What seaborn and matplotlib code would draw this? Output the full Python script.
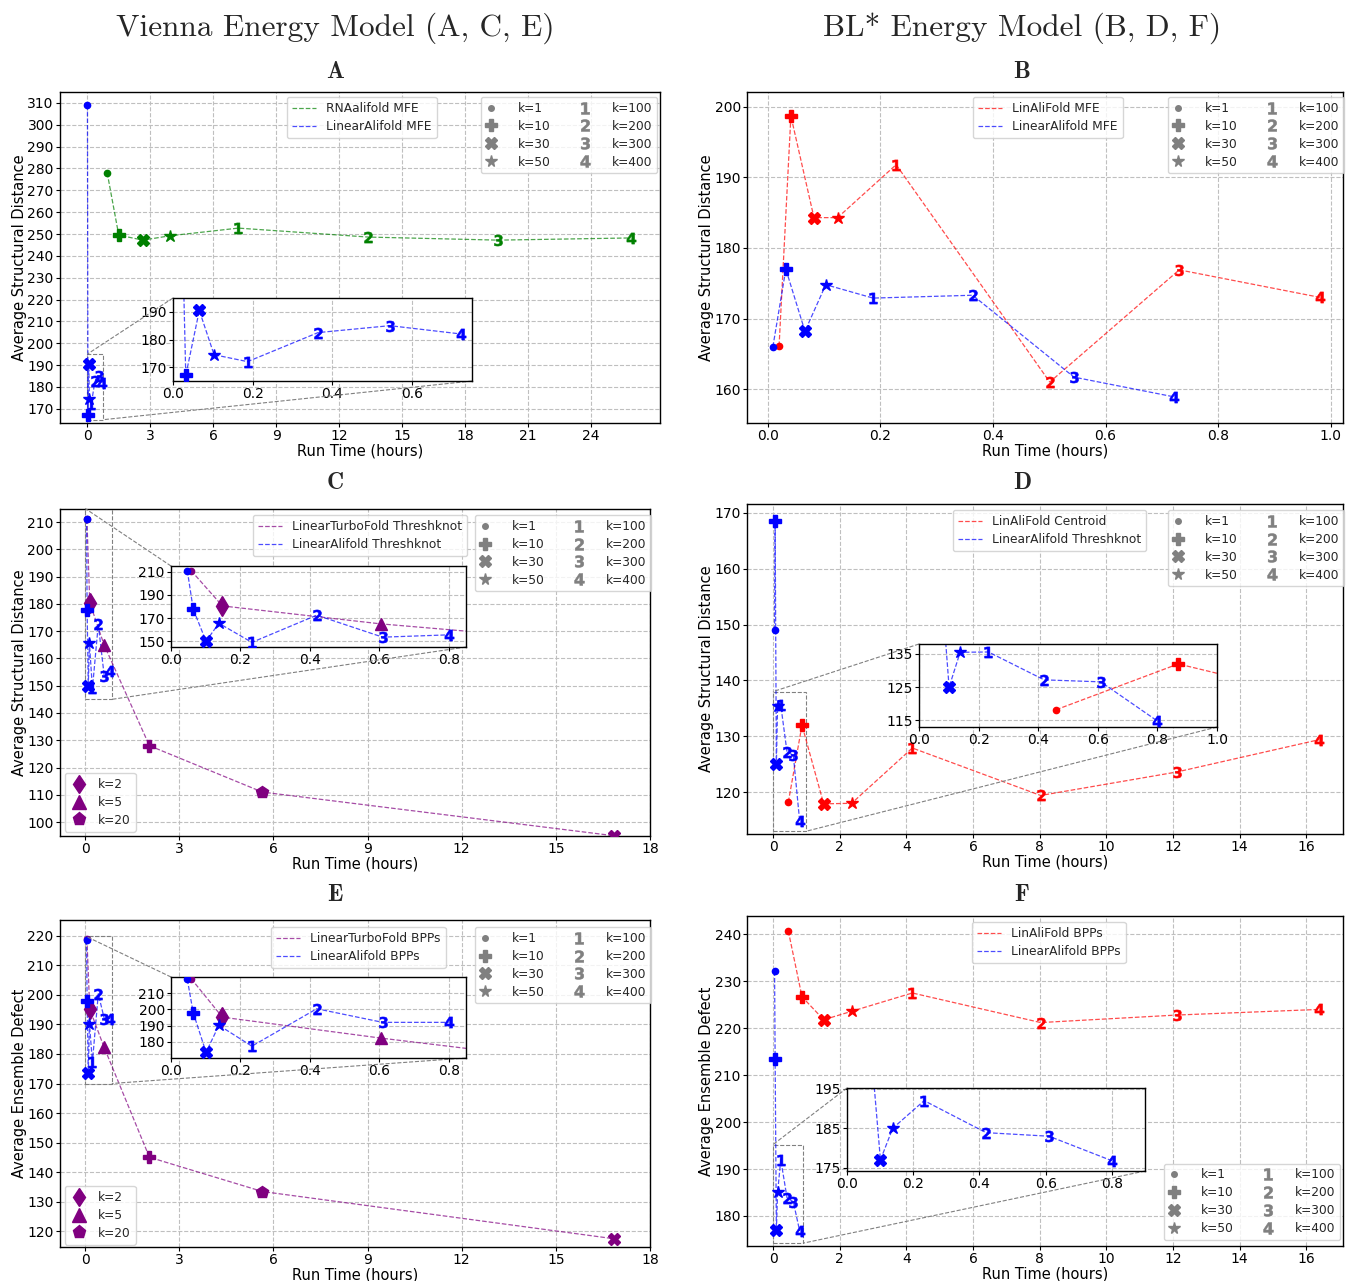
import matplotlib
matplotlib.use("Agg")
import matplotlib.pyplot as plt
import seaborn as sns
from matplotlib.lines import Line2D
from matplotlib.legend import Legend
from mpl_toolkits.axes_grid1.inset_locator import mark_inset

W, H = 1346, 1281

# ---------------- data ----------------
K_MAIN = [1, 10, 30, 50, 100, 200, 300, 400]
K_TURBO = [1, 2, 5, 10, 20, 30]

# Panel A (Vienna, MFE)
A_rnaalifold_x = [0.95, 1.5, 2.65, 3.95, 7.2, 13.4, 19.6, 25.9]
A_rnaalifold_y = [278.0, 249.5, 247.2, 249.2, 252.7, 248.6, 247.2, 248.2]
A_linearalifold_x = [0.009, 0.032, 0.066, 0.103, 0.187, 0.364, 0.544, 0.722]
A_linearalifold_y = [309.0, 167.0, 190.5, 174.5, 172.0, 182.5, 185.0, 182.0]

# Panel B (BL*, MFE)
B_linalifold_x = [0.020, 0.041, 0.082, 0.124, 0.228, 0.501, 0.731, 0.981]
B_linalifold_y = [166.1, 198.7, 184.3, 184.3, 191.8, 161.0, 176.9, 173.0]
B_linearalifold_x = [0.009, 0.032, 0.066, 0.103, 0.187, 0.364, 0.544, 0.722]
B_linearalifold_y = [166.0, 177.0, 168.2, 174.8, 172.9, 173.3, 161.7, 158.9]

# Panel C (Vienna, Threshknot)
C_turbo_x = [0.058, 0.148, 0.604, 2.05, 5.65, 16.85]
C_turbo_y = [211.0, 180.5, 165.0, 128.0, 111.0, 95.0]
C_linearalifold_x = [0.047, 0.064, 0.101, 0.138, 0.233, 0.42, 0.61, 0.80]
C_linearalifold_y = [211.0, 177.7, 150.0, 165.5, 149.0, 172.5, 153.5, 155.5]

# Panel D (BL*, Centroid / Threshknot)
D_linalifold_x = [0.46, 0.87, 1.52, 2.36, 4.18, 8.03, 12.11, 16.39]
D_linalifold_y = [118.2, 132.0, 117.9, 118.0, 127.9, 119.4, 123.6, 129.4]
D_linearalifold_x = [0.047, 0.064, 0.101, 0.138, 0.233, 0.42, 0.61, 0.80]
D_linearalifold_y = [149.0, 168.6, 125.0, 135.5, 135.6, 127.2, 126.6, 114.8]

# Panel E (Vienna, BPPs)
E_turbo_x = [0.058, 0.148, 0.604, 2.05, 5.65, 16.85]
E_turbo_y = [219.0, 195.2, 182.3, 145.0, 133.4, 117.4]
E_linearalifold_x = [0.047, 0.064, 0.101, 0.138, 0.233, 0.42, 0.61, 0.80]
E_linearalifold_y = [218.5, 198.0, 173.5, 190.2, 177.3, 200.4, 192.0, 192.0]

# Panel F (BL*, BPPs)
F_linalifold_x = [0.46, 0.87, 1.52, 2.36, 4.18, 8.03, 12.11, 16.39]
F_linalifold_y = [240.7, 226.7, 221.8, 223.6, 227.5, 221.2, 222.8, 224.0]
F_linearalifold_x = [0.047, 0.064, 0.101, 0.138, 0.233, 0.42, 0.61, 0.80]
F_linearalifold_y = [232.1, 213.5, 177.0, 185.0, 192.0, 183.9, 183.0, 176.8]

# ---------------- style ----------------
sns.set_style("ticks")
plt.rcParams.update({
    "font.family": ["DejaVu Sans"],
    "axes.edgecolor": "black",
    "axes.linewidth": 1.0,
    "xtick.color": "black",
    "ytick.color": "black",
    "xtick.labelsize": 10,
    "ytick.labelsize": 10,
    "xtick.major.size": 3,
    "ytick.major.size": 3,
    "xtick.major.pad": 1.5,
    "ytick.major.pad": 1.5,
    "axes.labelsize": 10.5,
    "axes.labelcolor": "black",
})

MARKERS = {1: "o", 2: "d", 5: "^", 10: "P", 20: "p", 30: "X", 50: "*",
           100: r"$\mathbf{1}$", 200: r"$\mathbf{2}$", 300: r"$\mathbf{3}$", 400: r"$\mathbf{4}$"}
MSIZE = {1: 4.5, 2: 10, 5: 9, 10: 9, 20: 9, 30: 9, 50: 9, 100: 8, 200: 8, 300: 8, 400: 8}
MEW = {100: 0.4, 200: 0.4, 300: 0.4, 400: 0.4}

fig = plt.figure(figsize=(W / 100, H / 100), dpi=100)


def px_axes(l, t, r, b):
    return fig.add_axes([l / W, 1 - b / H, (r - l) / W, (b - t) / H])


def style_ax(ax):
    ax.grid(True, color="0.75", linestyle="--", linewidth=0.8)
    ax.set_axisbelow(True)
    for s in ax.spines.values():
        s.set_visible(True)
        s.set_color("black")


def draw_series(ax, xs, ys, ks, color):
    sns.lineplot(x=xs, y=ys, ax=ax, sort=False, estimator=None, color=color,
                 linestyle="--", linewidth=0.9, alpha=0.7, legend=False)
    for x, y, k in zip(xs, ys, ks):
        ax.plot([x], [y], linestyle="none", marker=MARKERS[k], markersize=MSIZE[k],
                markeredgewidth=MEW.get(k, 1.0), color=color, zorder=3)


def add_legend(ax, handles, labels, x, y, loc="upper left", **kw):
    leg = Legend(ax, handles, labels, loc=loc, bbox_to_anchor=(x / W, 1 - y / H),
                 bbox_transform=fig.transFigure, borderaxespad=0, fontsize=8.8, **kw)
    ax.add_artist(leg)
    return leg


def line_legend(ax, items, x, y):
    handles = [Line2D([], [], color=c, linestyle="--", linewidth=0.9, alpha=0.7) for c, _ in items]
    labels = [l for _, l in items]
    add_legend(ax, handles, labels, x, y, labelspacing=0.45)


def marker_legend(ax, x, y, loc="upper left"):
    handles = [Line2D([], [], linestyle="none", marker=MARKERS[k],
                      markersize=(4 if k == 1 else 8.5),
                      markeredgewidth=MEW.get(k, 1.0), color="0.5") for k in K_MAIN]
    labels = ["k=%d" % k for k in K_MAIN]
    add_legend(ax, handles, labels, x, y, loc=loc, ncol=2, columnspacing=2.4,
               handlelength=0.8, handletextpad=1.8, labelspacing=0.4)


def turbo_legend(ax, x, y):
    handles = [Line2D([], [], linestyle="none", marker=MARKERS[k], markersize=9.5, color="purple")
               for k in [2, 5, 20]]
    labels = ["k=2", "k=5", "k=20"]
    add_legend(ax, handles, labels, x, y, labelspacing=0.4, handlelength=1.5)


def finish_main(ax, xlim, ylim, xticks, yticks, ylabel):
    ax.set_xlim(*xlim)
    ax.set_ylim(*ylim)
    ax.set_xticks(xticks)
    ax.set_yticks(yticks)
    ax.set_xlabel("Run Time (hours)", labelpad=0.5)
    ax.set_ylabel(ylabel, labelpad=0)


def make_inset(ax, rect_px, xlim, ylim, xticks, yticks, series):
    axi = px_axes(*rect_px)
    style_ax(axi)
    for xs, ys, ks, c in series:
        draw_series(axi, xs, ys, ks, c)
    axi.set_xlim(*xlim)
    axi.set_ylim(*ylim)
    axi.set_xticks(xticks)
    axi.set_yticks(yticks)
    axi.set_xlabel("")
    axi.set_ylabel("")
    mark_inset(ax, axi, loc1=2, loc2=4, fc="none", ec="0.5", ls="--", lw=0.8)
    return axi


xt02 = [0.0, 0.2, 0.4, 0.6, 0.8]

# ---------------- Panel A ----------------
axA = px_axes(60, 92, 660, 423)
style_ax(axA)
sA = [(A_rnaalifold_x, A_rnaalifold_y, K_MAIN, "green"),
      (A_linearalifold_x, A_linearalifold_y, K_MAIN, "blue")]
for xs, ys, ks, c in sA:
    draw_series(axA, xs, ys, ks, c)
finish_main(axA, (-1.3, 27.3), (163.5, 315.0), range(0, 25, 3), range(170, 311, 10),
            "Average Structural Distance")
line_legend(axA, [("green", "RNAalifold MFE"), ("blue", "LinearAlifold MFE")], 287, 97)
marker_legend(axA, 481, 97)
make_inset(axA, (173, 298, 472, 381), (0, 0.75), (165, 195), [0.0, 0.2, 0.4, 0.6],
           [170, 180, 190], [sA[1]])

# ---------------- Panel B ----------------
axB = px_axes(747, 92, 1343, 423)
style_ax(axB)
sB = [(B_linalifold_x, B_linalifold_y, K_MAIN, "red"),
      (B_linearalifold_x, B_linearalifold_y, K_MAIN, "blue")]
for xs, ys, ks, c in sB:
    draw_series(axB, xs, ys, ks, c)
finish_main(axB, (-0.037, 1.022), (155.2, 202.1), [0, 0.2, 0.4, 0.6, 0.8, 1.0],
            range(160, 201, 10), "Average Structural Distance")
line_legend(axB, [("red", "LinAliFold MFE"), ("blue", "LinearAlifold MFE")], 973, 97)
marker_legend(axB, 1168, 97)

# ---------------- Panel C ----------------
axC = px_axes(60, 509, 650, 836)
style_ax(axC)
sC = [(C_turbo_x, C_turbo_y, K_TURBO, "purple"),
      (C_linearalifold_x, C_linearalifold_y, K_MAIN, "blue")]
for xs, ys, ks, c in sC:
    draw_series(axC, xs, ys, ks, c)
finish_main(axC, (-0.8, 18), (94.9, 214.8), range(0, 19, 3), range(100, 211, 10),
            "Average Structural Distance")
line_legend(axC, [("purple", "LinearTurboFold Threshknot"), ("blue", "LinearAlifold Threshknot")], 253, 515)
marker_legend(axC, 475, 515)
turbo_legend(axC, 65, 773)
make_inset(axC, (171, 566, 466, 647), (0, 0.85), (145, 215), xt02, [150, 170, 190, 210], sC)

# ---------------- Panel D ----------------
axD = px_axes(747, 504, 1343, 834)
style_ax(axD)
sD = [(D_linalifold_x, D_linalifold_y, K_MAIN, "red"),
      (D_linearalifold_x, D_linearalifold_y, K_MAIN, "blue")]
for xs, ys, ks, c in sD:
    draw_series(axD, xs, ys, ks, c)
finish_main(axD, (-0.78, 17.1), (112.5, 171.6), range(0, 17, 2), range(120, 171, 10),
            "Average Structural Distance")
line_legend(axD, [("red", "LinAliFold Centroid"), ("blue", "LinearAlifold Threshknot")], 953, 510)
marker_legend(axD, 1168, 510)
make_inset(axD, (919, 644, 1217, 727), (0, 1.0), (113, 138), [0.0, 0.2, 0.4, 0.6, 0.8, 1.0],
           [115, 125, 135], sD)

# ---------------- Panel E ----------------
axE = px_axes(60, 920, 650, 1247)
style_ax(axE)
sE = [(E_turbo_x, E_turbo_y, K_TURBO, "purple"),
      (E_linearalifold_x, E_linearalifold_y, K_MAIN, "blue")]
for xs, ys, ks, c in sE:
    draw_series(axE, xs, ys, ks, c)
finish_main(axE, (-0.8, 18), (114.6, 225.4), range(0, 19, 3), range(120, 221, 10),
            "Average Ensemble Defect")
line_legend(axE, [("purple", "LinearTurboFold BPPs"), ("blue", "LinearAlifold BPPs")], 271, 927)
marker_legend(axE, 475, 927)
turbo_legend(axE, 65, 1186)
make_inset(axE, (171, 977, 466, 1058), (0, 0.85), (170, 220), xt02, [180, 190, 200, 210], sE)

# ---------------- Panel F ----------------
axF = px_axes(747, 916, 1343, 1246)
style_ax(axF)
sF = [(F_linalifold_x, F_linalifold_y, K_MAIN, "red"),
      (F_linearalifold_x, F_linearalifold_y, K_MAIN, "blue")]
for xs, ys, ks, c in sF:
    draw_series(axF, xs, ys, ks, c)
finish_main(axF, (-0.78, 17.1), (173.6, 243.9), range(0, 17, 2), range(180, 241, 10),
            "Average Ensemble Defect")
line_legend(axF, [("red", "LinAliFold BPPs"), ("blue", "LinearAlifold BPPs")], 972, 922)
marker_legend(axF, 1340, 1240, loc="lower right")
make_inset(axF, (847, 1088, 1145, 1171), (0, 0.9), (174.2, 195.2), xt02, [175, 185, 195],
           [sF[1]])

# ---------------- titles ----------------
fig.text(335 / W, 1 - 28 / H, "Vienna Energy Model (A, C, E)", fontname="cmr10",
         fontsize=22.5, ha="center", va="center")
fig.text(1022 / W, 1 - 28 / H, "BL* Energy Model (B, D, F)", fontname="cmr10",
         fontsize=22.5, ha="center", va="center")
for letter, x, y in [("A", 335, 72), ("B", 1022, 72), ("C", 335, 483),
                     ("D", 1022, 483), ("E", 335, 895), ("F", 1022, 895)]:
    fig.text(x / W, 1 - y / H, letter, fontname="cmb10", fontsize=17,
             ha="center", va="center")

fig.savefig("out.png", dpi=100)
